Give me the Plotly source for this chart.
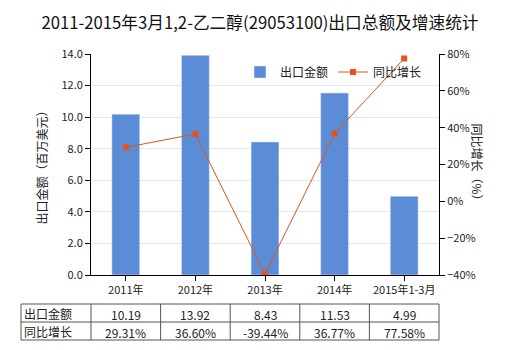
import plotly.graph_objects as go

categories = ["2011年", "2012年", "2013年", "2014年", "2015年1-3月"]
export_values = [10.19, 13.92, 8.43, 11.53, 4.99]
growth_values = [29.31, 36.60, -39.44, 36.77, 77.58]
export_labels = ["10.19", "13.92", "8.43", "11.53", "4.99"]
growth_labels = ["29.31%", "36.60%", "-39.44%", "36.77%", "77.58%"]

W, H = 520, 350
L, R, T, B = 91, 81, 54, 75
pw, ph = W - L - R, H - T - B
FONT = "Noto Sans CJK SC, Microsoft YaHei, sans-serif"

def px(x):
    return (x - L) / pw

def py(y):
    return (H - B - y) / ph

fig = go.Figure()
fig.add_trace(go.Bar(x=categories, y=export_values, name="出口金额",
                     marker_color="#5B8DD6", width=0.4, yaxis="y"))
fig.add_trace(go.Scatter(x=categories, y=growth_values, name="同比增长",
                         mode="lines+markers", yaxis="y2",
                         line=dict(color="#E2531E", width=1),
                         marker=dict(symbol="square", size=6, color="#E2531E")))

shapes = []
annotations = []
# table geometry
x0, x1 = 21, L + pw
y_top, y_mid, y_bot = 304, 322, 340
line = dict(color="#555555", width=1)
for y in (y_top, y_mid, y_bot):
    shapes.append(dict(type="line", xref="paper", yref="paper", x0=px(x0), x1=px(x1),
                       y0=py(y), y1=py(y), line=line))
col_edges = [x0, L] + [L + pw * i / 5 for i in range(1, 5)] + [x1]
for x in col_edges:
    shapes.append(dict(type="line", xref="paper", yref="paper", x0=px(x), x1=px(x),
                       y0=py(y_top), y1=py(y_bot), line=line))
row_labels = ["出口金额", "同比增长"]
rows = [export_labels, growth_labels]
for r, (lab, vals) in enumerate(zip(row_labels, rows)):
    yc = (y_top + y_mid) / 2 if r == 0 else (y_mid + y_bot) / 2
    annotations.append(dict(xref="paper", yref="paper", x=px(x0 + 1), y=py(yc),
                            text=lab, showarrow=False, xanchor="left", yanchor="middle",
                            font=dict(size=12, color="#222", family=FONT)))
    for i, v in enumerate(vals):
        xc = L + pw * (i + 0.5) / 5
        annotations.append(dict(xref="paper", yref="paper", x=px(xc), y=py(yc + 1),
                                text=v, showarrow=False, xanchor="center", yanchor="middle",
                                font=dict(size=12, color="#222", family=FONT)))

annotations.append(dict(xref="paper", yref="paper", x=px(30), y=py(165),
                        text="出口金额（百万美元）", showarrow=False, textangle=-90,
                        font=dict(size=12, color="#222", family=FONT)))
annotations.append(dict(xref="paper", yref="paper", x=px(488), y=py(165),
                        text="同比增长（%）", showarrow=False, textangle=90,
                        font=dict(size=12, color="#222", family=FONT)))

fig.update_layout(
    width=W, height=H,
    margin=dict(l=L, r=R, t=T, b=B),
    paper_bgcolor="white", plot_bgcolor="white",
    font=dict(family=FONT, size=11, color="#222"),
    title=dict(text="2011-2015年3月1,2-乙二醇(29053100)出口总额及增速统计",
               x=0.5, xanchor="center", y=1 - 23 / H, yanchor="middle",
               font=dict(size=16.7, color="#111", family=FONT)),
    showlegend=True,
    legend=dict(orientation="h", x=px(240), y=py(72), xanchor="left", yanchor="middle",
                font=dict(size=12, family=FONT), bgcolor="rgba(0,0,0,0)",
                itemwidth=30, tracegroupgap=0),
    xaxis=dict(range=[-0.5, 4.5], showline=True, linecolor="black", linewidth=1,
               ticks="outside", ticklen=5, tickcolor="black", showgrid=False,
               tickfont=dict(size=11)),
    yaxis=dict(range=[0, 14], dtick=2, tickformat=".1f", showline=True, linecolor="black",
               ticks="outside", ticklen=5, tickcolor="black", gridcolor="#E6E6E6",
               zeroline=False, tickfont=dict(size=11)),
    yaxis2=dict(range=[-40, 80], dtick=20, ticksuffix="%", overlaying="y", side="right",
                showline=True, linecolor="black", ticks="outside", ticklen=5,
                tickcolor="black", showgrid=False, zeroline=False, tickfont=dict(size=11)),
    shapes=shapes, annotations=annotations,
    bargap=0.6,
)

fig.write_html("out.html")
